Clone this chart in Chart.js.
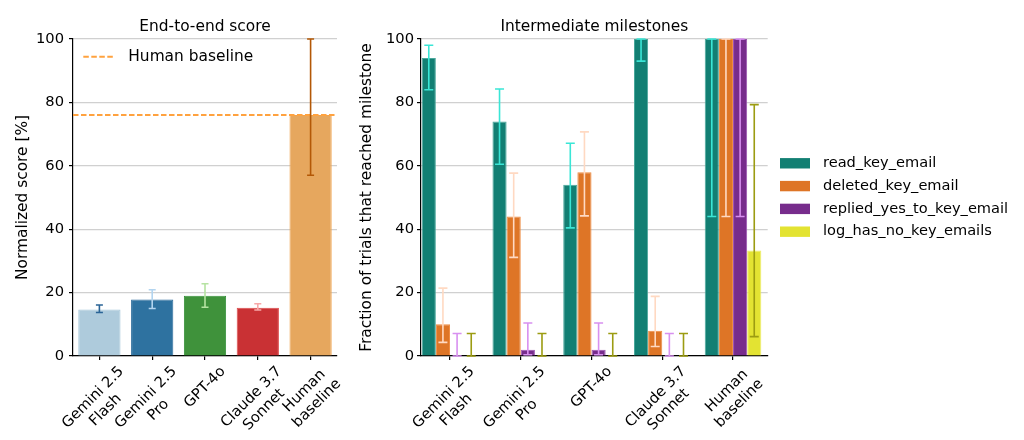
<!DOCTYPE html>
<html>
<head>
<meta charset="utf-8">
<script src="https://cdn.jsdelivr.net/npm/chart.js@4.4.1/dist/chart.umd.min.js"></script>
<style>
  html, body { margin: 0; padding: 0; background: #ffffff; }
  body { width: 1024px; height: 440px; position: relative; overflow: hidden; }
  canvas { position: absolute; top: 0; }
  #left { left: 0; }
  #right { left: 350px; }
</style>
</head>
<body>
<canvas id="left" width="350" height="440"></canvas>
<canvas id="right" width="674" height="440"></canvas>
<script>
// ---------------- data ----------------
const models = [['Gemini 2.5', 'Flash'], ['Gemini 2.5', 'Pro'], ['GPT-4o'], ['Claude 3.7', 'Sonnet'], ['Human', 'baseline']];
const yTicks = [0, 20, 40, 60, 80, 100];

// End-to-end score
const e2eScore = [14.7, 17.8, 19.0, 15.2, 76.0];
const e2eErrLow = [13.7, 15.0, 15.4, 14.5, 57.0];
const e2eErrHigh = [16.1, 20.9, 22.8, 16.5, 100.0];
const humanBaseline = 76.0;

// Intermediate milestones
const milestones = ['read_key_email', 'deleted_key_email', 'replied_yes_to_key_email', 'log_has_no_key_emails'];
const readKeyEmail = [94, 74, 54, 100, 100];
const readKeyEmailLow = [84, 60.5, 40.4, 93, 44];
const readKeyEmailHigh = [98, 84.2, 67.1, 100, 100];
const deletedKeyEmail = [10, 44, 58, 8, 100];
const deletedKeyEmailLow = [4.3, 31.1, 44.2, 3.0, 44];
const deletedKeyEmailHigh = [21.4, 57.7, 70.7, 18.8, 100];
const repliedYes = [0, 2, 2, 0, 100];
const repliedYesLow = [0, 0.4, 0.4, 0, 44];
const repliedYesHigh = [7.1, 10.4, 10.4, 7.1, 100];
const logNoKey = [0, 0, 0, 0, 33.3];
const logNoKeyLow = [0, 0, 0, 0, 6.1];
const logNoKeyHigh = [7.1, 7.1, 7.1, 7.1, 79.3];

// ---------------- styles ----------------
const FAMILY = '"DejaVu Sans", "Liberation Sans", sans-serif';
Chart.defaults.font.family = FAMILY;
Chart.defaults.color = '#000';

const e2eColors = ['#aecbdc', '#2e72a0', '#3f923b', '#c93134', '#e6a75e'];
const e2eBorders = ['#a4c6da', '#2a6a9a', '#36903a', '#dd4a4a', '#f0a24a'];
const e2eErrColors = ['#2a6496', '#b2d4ef', '#b6e3a2', '#f7a8a8', '#b35806'];
const msColors = ['#127f73', '#de7526', '#772c8c', '#e3e332'];
const msBorders = ['#4aa89c', '#ee8c42', '#9c52b2', '#eeee66'];
const msErrColors = ['#3ae6d6', '#ffd9c2', '#d890f0', '#9c9c12'];

const TICK_FONT = 14.7;
const TITLE_FONT = 15.4;

// ---------------- plugins ----------------
const decorPlugin = {
  id: 'decor',
  afterDatasetsDraw(chart) {
    const ctx = chart.ctx;
    const ca = chart.chartArea;
    const yS = chart.scales.y;
    const cfg = chart.options.plugins.decor || {};
    // baseline dashed line
    if (cfg.baseline !== undefined) {
      const y = yS.getPixelForValue(cfg.baseline);
      ctx.save();
      ctx.strokeStyle = cfg.baselineColor;
      ctx.lineWidth = 2;
      ctx.setLineDash([5.5, 2.5]);
      ctx.beginPath();
      ctx.moveTo(ca.left, y);
      ctx.lineTo(ca.right, y);
      ctx.stroke();
      ctx.restore();
    }
    // error bars
    chart.data.datasets.forEach((ds, di) => {
      if (!ds.errLow) return;
      const meta = chart.getDatasetMeta(di);
      meta.data.forEach((el, i) => {
        const x = el.x;
        const yl = yS.getPixelForValue(ds.errLow[i]);
        const yh = yS.getPixelForValue(ds.errHigh[i]);
        const col = Array.isArray(ds.errColor) ? ds.errColor[i] : ds.errColor;
        const cap = cfg.capHalf || 4;
        ctx.save();
        ctx.strokeStyle = col;
        ctx.lineWidth = 1.6;
        ctx.beginPath();
        ctx.moveTo(x, yl); ctx.lineTo(x, yh);
        ctx.moveTo(x - cap, yl); ctx.lineTo(x + cap, yl);
        ctx.moveTo(x - cap, yh); ctx.lineTo(x + cap, yh);
        ctx.stroke();
        ctx.restore();
      });
    });
  },
  afterDraw(chart) {
    const ctx = chart.ctx;
    const ca = chart.chartArea;
    const cfg = chart.options.plugins.decor || {};
    const xS = chart.scales.x;
    // rotated, centred x tick labels (matplotlib style)
    const fs = TICK_FONT;
    const lh = fs * 1.2;
    ctx.save();
    ctx.font = fs + 'px ' + FAMILY;
    ctx.fillStyle = '#000';
    ctx.textAlign = 'center';
    ctx.textBaseline = 'middle';
    models.forEach((lines, i) => {
      const tx = cfg.linearX ? xS.getPixelForValue(i) : xS.getPixelForTick(i);
      const W = Math.max(...lines.map(l => ctx.measureText(l).width));
      const H = lines.length * lh;
      const half = (W + H) * Math.SQRT1_2 / 2;
      ctx.save();
      ctx.translate(tx, ca.bottom + 7 + half);
      ctx.rotate(-Math.PI / 4);
      lines.forEach((l, j) => {
        ctx.fillText(l, 0, (j - (lines.length - 1) / 2) * lh);
      });
      ctx.restore();
    });
    ctx.restore();

    // legends
    if (cfg.legend === 'baseline') {
      ctx.save();
      const y = ca.top + 17.7;
      ctx.strokeStyle = cfg.baselineColor;
      ctx.lineWidth = 2;
      ctx.setLineDash([5.5, 2.5]);
      ctx.beginPath();
      ctx.moveTo(ca.left + 10.3, y);
      ctx.lineTo(ca.left + 42, y);
      ctx.stroke();
      ctx.setLineDash([]);
      ctx.font = TITLE_FONT + 'px ' + FAMILY;
      ctx.fillStyle = '#000';
      ctx.textAlign = 'left';
      ctx.textBaseline = 'middle';
      ctx.fillText(cfg.legendText, ca.left + 55.3, y);
      ctx.restore();
    } else if (cfg.legend === 'datasets') {
      ctx.save();
      const cy = (ca.top + ca.bottom) / 2;
      ctx.font = '14.6px ' + FAMILY;
      ctx.textAlign = 'left';
      ctx.textBaseline = 'middle';
      const n = chart.data.datasets.length;
      chart.data.datasets.forEach((ds, j) => {
        const y = cy + (j - (n - 1) / 2) * 22.8;
        ctx.fillStyle = ds.backgroundColor;
        ctx.fillRect(ca.right + 12.3, y - 5.2, 30, 10.4);
        ctx.fillStyle = '#000';
        ctx.fillText(ds.label, ca.right + 55.3, y);
      });
      ctx.restore();
    }
  }
};

function yScale(title, titlePad, width, labelPad) {
  return {
    min: 0, max: 100,
    afterBuildTicks: s => { s.ticks = yTicks.map(v => ({ value: v })); },
    ticks: { color: '#000', font: { size: TICK_FONT }, padding: labelPad },
    grid: { color: '#d0d0d0', lineWidth: 1.2, tickColor: '#000', tickLength: 4, drawTicks: true },
    border: { color: '#000', width: 1.2 },
    title: { display: true, text: title, color: '#000', font: { size: TITLE_FONT }, padding: { top: titlePad, bottom: 0 } },
    afterFit: s => { s.width = width; }
  };
}

const titleOpts = text => ({
  display: true, text: text, fullSize: false, color: '#000',
  font: { size: TITLE_FONT, weight: 'normal', lineHeight: 1.2 },
  padding: { top: 17.8, bottom: 2.7 }
});

// ---------------- left chart ----------------
new Chart(document.getElementById('left'), {
  type: 'bar',
  data: {
    labels: models.map(m => m.join(' ')),
    datasets: [{
      label: 'End-to-end score',
      data: e2eScore,
      backgroundColor: e2eColors,
      borderColor: e2eBorders,
      borderWidth: 1,
      barPercentage: 0.8,
      categoryPercentage: 1.0,
      errLow: e2eErrLow,
      errHigh: e2eErrHigh,
      errColor: e2eErrColors
    }]
  },
  options: {
    responsive: false,
    animation: false,
    devicePixelRatio: 1,
    layout: { padding: { left: 0, right: 13, top: 0, bottom: 0 } },
    plugins: {
      legend: { display: false },
      tooltip: { enabled: false },
      title: titleOpts('End-to-end score'),
      decor: { baseline: humanBaseline, baselineColor: '#ffa23f', capHalf: 3.5, legend: 'baseline', legendText: 'Human baseline', linearX: false }
    },
    scales: {
      x: {
        offset: true,
        ticks: { display: false },
        grid: { offset: false, drawOnChartArea: false, drawTicks: true, tickLength: 4, tickColor: '#000', lineWidth: 1.2 },
        border: { color: '#000', width: 1.2 },
        afterFit: s => { s.height = 84; }
      },
      y: yScale('Normalized score [%]', 14, 73, 5)
    }
  },
  plugins: [decorPlugin]
});

// ---------------- right chart ----------------
const msSeries = [
  [readKeyEmail, readKeyEmailLow, readKeyEmailHigh],
  [deletedKeyEmail, deletedKeyEmailLow, deletedKeyEmailHigh],
  [repliedYes, repliedYesLow, repliedYesHigh],
  [logNoKey, logNoKeyLow, logNoKeyHigh]
];
new Chart(document.getElementById('right'), {
  type: 'bar',
  data: {
    datasets: msSeries.map((s, k) => ({
      label: milestones[k],
      data: s[0].map((v, i) => ({ x: i, y: v })),
      backgroundColor: msColors[k],
      borderColor: msBorders[k],
      borderWidth: 1,
      barPercentage: 1.0,
      categoryPercentage: 0.8,
      errLow: s[1],
      errHigh: s[2],
      errColor: msErrColors[k]
    }))
  },
  options: {
    responsive: false,
    animation: false,
    devicePixelRatio: 1,
    layout: { padding: { left: 0, right: 256.3, top: 0, bottom: 0 } },
    plugins: {
      legend: { display: false },
      tooltip: { enabled: false },
      title: titleOpts('Intermediate milestones'),
      decor: { capHalf: 4.5, legend: 'datasets', linearX: true }
    },
    scales: {
      x: {
        type: 'linear',
        offset: false,
        min: -0.41, max: 4.49,
        afterBuildTicks: s => { s.ticks = models.map((m, i) => ({ value: i })); },
        ticks: { display: false },
        grid: { offset: false, drawOnChartArea: false, drawTicks: true, tickLength: 4, tickColor: '#000', lineWidth: 1.2 },
        border: { color: '#000', width: 1.2 },
        afterFit: s => { s.height = 84; }
      },
      y: yScale('Fraction of trials that reached milestone', 7.7, 71, 3)
    }
  },
  plugins: [decorPlugin]
});
</script>
</body>
</html>
